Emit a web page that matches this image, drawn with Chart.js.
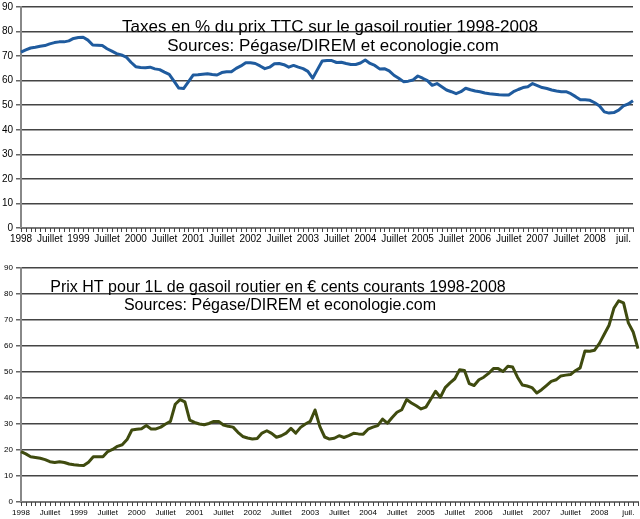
<!DOCTYPE html>
<html>
<head>
<meta charset="utf-8">
<script src="https://cdn.jsdelivr.net/npm/chart.js@4.4.0/dist/chart.umd.min.js"></script>
<style>
  html, body { margin: 0; padding: 0; background: #fff; }
  #wrap { position: relative; width: 640px; height: 519px; overflow: hidden; }
  .box { position: absolute; left: 0; width: 640px; }
  #topBox { top: 0; height: 252px; }
  #bottomBox { top: 255px; height: 264px; }
</style>
</head>
<body>
<div id="wrap">
  <div class="box" id="topBox"><canvas id="taxChart"></canvas></div>
  <div class="box" id="bottomBox"><canvas id="priceChart"></canvas></div>
</div>
<script>
// --- data (monthly, Jan 1998 -> Sep 2008) ---
const yearLabels = ["1998", "1999", "2000", "2001", "2002", "2003", "2004", "2005", "2006", "2007", "2008"];
const midYearLabel = "Juillet";
const lastMidYearLabel = "juil.";
const monthCount = 129;

// taxes as % of the pump price (TTC)
const taxShare = [
  71.6, 72.5, 73.3, 73.6, 74.0, 74.3, 75.0, 75.5, 75.8, 75.8, 76.2, 77.2,
  77.6, 77.7, 76.5, 74.5, 74.4, 74.3, 73.0, 72.0, 71.0, 70.5, 69.6, 67.5,
  65.7, 65.4, 65.3, 65.5, 64.8, 64.5, 63.5, 62.6, 59.8, 57.0, 56.8, 59.5,
  62.3, 62.4, 62.6, 62.8, 62.5, 62.3, 63.3, 63.6, 63.6, 65.0, 66.0, 67.3,
  67.3, 67.0, 66.0, 64.9, 65.5, 66.9, 67.0, 66.5, 65.5, 66.2, 65.5, 64.9,
  63.8, 61.0, 64.5, 68.0, 68.2, 68.2, 67.4, 67.5, 67.0, 66.6, 66.6, 67.2,
  68.4, 67.0, 66.2, 64.8, 64.9, 64.0, 62.2, 61.0, 59.6, 59.8, 60.3, 61.9,
  61.0, 60.0, 58.1, 58.8, 57.5, 56.2, 55.5, 54.7, 55.5, 56.9, 56.3, 55.8,
  55.5, 55.0, 54.7, 54.5, 54.3, 54.2, 54.2, 55.5, 56.4, 57.2, 57.5, 58.8,
  58.0, 57.2, 56.8, 56.2, 55.8, 55.5, 55.5, 54.7, 53.5, 52.2, 52.2, 52.0,
  51.0, 49.7, 47.3, 46.8, 47.0, 48.0, 49.7, 50.5, 51.8
];

// price before tax, euro cents per litre
const priceHT = [
  19.4, 18.5, 17.4, 17.1, 16.8, 16.3, 15.5, 15.2, 15.5, 15.2, 14.6, 14.3,
  14.1, 14.0, 15.3, 17.4, 17.4, 17.4, 19.4, 20.2, 21.4, 22.0, 24.0, 27.7,
  28.0, 28.2, 29.4, 28.1, 28.1, 28.8, 30.0, 31.0, 37.6, 39.4, 38.5, 31.5,
  30.6, 30.0, 29.7, 30.2, 31.0, 31.0, 29.6, 29.1, 28.8, 26.8, 25.2, 24.6,
  24.2, 24.4, 26.5, 27.4, 26.4, 24.9, 25.5, 26.5, 28.3, 26.5, 28.7, 30.0,
  31.0, 35.4, 29.0, 25.0, 24.2, 24.5, 25.5, 24.8, 25.5, 26.4, 26.2, 26.1,
  28.0, 28.8, 29.4, 31.9, 30.3, 32.5, 34.5, 35.5, 39.4, 38.1, 37.0, 35.8,
  36.5, 39.5, 42.6, 40.3, 44.0, 45.8, 47.4, 50.9, 50.6, 45.5, 44.8, 47.0,
  48.0, 49.5, 51.3, 51.3, 50.2, 52.2, 51.9, 48.0, 45.0, 44.6, 44.0, 41.9,
  43.2, 44.8, 46.4, 47.0, 48.5, 48.8, 49.0, 50.5, 51.6, 58.1, 58.0, 58.4,
  61.0, 64.5, 68.0, 74.5, 77.4, 76.6, 68.9, 65.4, 59.0
];

const taxTitle = [
  "Taxes en % du prix TTC sur le gasoil routier 1998-2008",
  "Sources: Pégase/DIREM et econologie.com"
];
const priceTitle = [
  "Prix HT pour 1L de gasoil routier en € cents courants 1998-2008",
  "Sources: Pégase/DIREM et econologie.com"
];

const FONT = '"Liberation Sans", Arial, sans-serif';

// one category per month
const monthKeys = [];
for (let i = 0; i < monthCount; i++) {
  monthKeys.push(yearLabels[Math.floor(i / 12)] + "-" + String(i % 12 + 1).padStart(2, "0"));
}

const tickText = (i) => {
  if (i % 12 === 0) return yearLabels[i / 12];
  if (i % 12 === 6) return i + 12 >= monthCount ? lastMidYearLabel : midYearLabel;
  return "";
};

// titles are written inside the plot, over the grid
const innerTitle = {
  id: "innerTitle",
  afterDatasetsDraw(chart, args, opts) {
    const ctx = chart.ctx;
    ctx.save();
    ctx.fillStyle = "#000";
    ctx.font = opts.size + "px " + FONT;
    ctx.textAlign = "center";
    ctx.textBaseline = "alphabetic";
    opts.lines.forEach((t, k) => ctx.fillText(t, opts.x[k], opts.y[k]));
    ctx.restore();
  }
};

// monthly comb under the x axis
const monthTicks = {
  id: "monthTicks",
  afterDraw(chart) {
    const ctx = chart.ctx;
    const x = chart.scales.x;
    const bottom = chart.chartArea.bottom;
    ctx.save();
    ctx.strokeStyle = "#444";
    ctx.lineWidth = 1;
    ctx.beginPath();
    for (let i = 0; i < monthCount; i++) {
      const px = Math.round(x.getPixelForValue(i)) + 0.5;
      ctx.moveTo(px, bottom);
      ctx.lineTo(px, bottom + 4);
    }
    ctx.stroke();
    ctx.restore();
  }
};

const makeChart = (canvasId, values, color, cfg) => {
  const ctx = document.getElementById(canvasId).getContext("2d");
  return new Chart(ctx, {
    type: "line",
    data: {
      labels: monthKeys,
      datasets: [{
        data: values,
        borderColor: color,
        borderWidth: 3,
        pointRadius: 0,
        tension: 0,
        borderJoinStyle: "round",
        fill: false
      }]
    },
    options: {
      responsive: true,
      maintainAspectRatio: false,
      animation: false,
      layout: { padding: { top: cfg.padTop, right: cfg.padRight, left: 0, bottom: 0 } },
      plugins: {
        legend: { display: false },
        tooltip: { enabled: false },
        innerTitle: cfg.title
      },
      scales: {
        x: {
          type: "category",
          offset: false,
          grid: { display: false, drawTicks: false },
          border: { display: true, color: "#777", width: 2 },
          ticks: {
            autoSkip: false,
            maxRotation: 0,
            minRotation: 0,
            padding: cfg.xPad,
            color: "#000",
            font: { family: FONT, size: cfg.xFont },
            callback: (v, i) => tickText(i)
          },
          afterFit: (s) => { s.height = cfg.xHeight; s.paddingLeft = 0; s.paddingRight = 0; }
        },
        y: {
          min: 0,
          max: 90,
          grid: { color: "#444", lineWidth: 1.5, tickLength: 5, tickColor: "#666" },
          border: { display: true, color: "#888", width: 2 },
          ticks: {
            stepSize: 10,
            padding: 3,
            color: "#000",
            font: { family: FONT, size: cfg.yFont }
          },
          afterFit: (s) => { s.width = 21; s.paddingTop = 0; s.paddingBottom = 0; }
        }
      }
    },
    plugins: [innerTitle, monthTicks]
  });
};

makeChart("taxChart", taxShare, "#1f5b9e", {
  padTop: 7, padRight: 7, xHeight: 24, xFont: 10, yFont: 10, xPad: 5,
  title: { lines: taxTitle, size: 17, x: [330, 333], y: [32, 51] }
});

makeChart("priceChart", priceHT, "#3f4b0f", {
  padTop: 13, padRight: 2, xHeight: 17, xFont: 8, yFont: 8, xPad: 6,
  title: { lines: priceTitle, size: 16, x: [278, 280], y: [37, 55] }
});
</script>
</body>
</html>
